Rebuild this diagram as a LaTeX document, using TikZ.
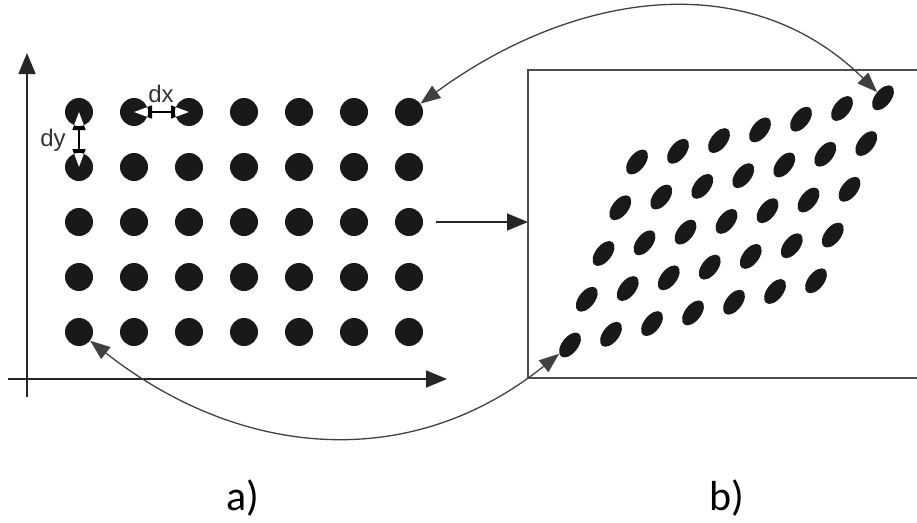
\documentclass[tikz,border=0pt]{standalone}
\usepackage{fontspec}
\setmainfont{Carlito}
\newfontfamily\dimfont{Liberation Sans}
\usetikzlibrary{arrows.meta, shapes.geometric}

\tikzset{
    dot/.style={circle, fill=black!90, minimum size=28pt, inner sep=0pt},
    blob/.style={ellipse, fill=black!90, minimum width=29pt, minimum height=16pt, inner sep=0pt, rotate=52},
    axis/.style={line width=1.6pt, draw=black!85, -{Triangle[length=21pt,width=17pt]}},
    frame/.style={line width=1.6pt, draw=black!70},
    swap/.style={line width=1.3pt, draw=black!75, {Triangle[length=20pt,width=15pt]}-{Triangle[length=20pt,width=15pt]}},
    dim/.style={line width=1.5pt, {Triangle[length=18pt,width=13pt]}-{Triangle[length=18pt,width=13pt]}},
    dimlabel/.style={font=\dimfont\fontsize{24}{24}\selectfont, text=black!80, inner sep=0pt, anchor=base},
    caption/.style={font=\fontsize{42}{42}\selectfont, inner sep=0pt, anchor=base}
}

\begin{document}
\begin{tikzpicture}[x=1pt, y=-1pt]
    \useasboundingbox (0,0) rectangle (917,522);

    \coordinate (xs) at (8,379);
    \coordinate (xe) at (447,379);
    \coordinate (ys) at (27,397);
    \coordinate (ye) at (27,53);
    \draw[axis] (xs) -- (xe);
    \draw[axis] (ys) -- (ye);

    \foreach \r in {1,...,5}
        \foreach \c in {1,...,7}
            \node[dot] (a\r\c) at ({79+55*(\c-1)}, {112+55*(\r-1)}) {};

    \draw[dim] (a11.center) -- (a21.center);
    \draw[dim] (a12.center) -- (a13.center);
    \begin{scope}
        \clip (a11.center) circle[radius=14] (a21.center) circle[radius=14]
              (a12.center) circle[radius=14] (a13.center) circle[radius=14];
        \draw[dim, white] (a11.center) -- (a21.center);
        \draw[dim, white] (a12.center) -- (a13.center);
    \end{scope}
    \node[dimlabel] (dx) at (161,102) {dx};
    \node[dimlabel] (dy) at (53,146) {dy};

    \coordinate (tr) at (917,70);
    \coordinate (tl) at (528,70);
    \coordinate (bl) at (528,378);
    \coordinate (br) at (917,378);
    \coordinate (bin) at (528,222);
    \draw[frame] (tr) -- (tl) -- (bl) -- (br);

    \foreach \r in {1,...,5}
        \foreach \c in {1,...,7}
            \node[blob] (b\r\c) at ({637+41*(\c-1)-16.75*(\r-1)}, {162-10.7*(\c-1)+45.75*(\r-1)}) {};

    \draw[swap] (a17) .. controls (570,-6) and (746,-37) .. (b17);
    \draw[swap] (a51) .. controls (241,459) and (411,473) .. (b51);
    \draw[axis] ([xshift=13pt]a37.east) -- (bin);

    \node[caption] (la) at (243,510) {a)};
    \node[caption] (lb) at (727,510) {b)};
\end{tikzpicture}
\end{document}
